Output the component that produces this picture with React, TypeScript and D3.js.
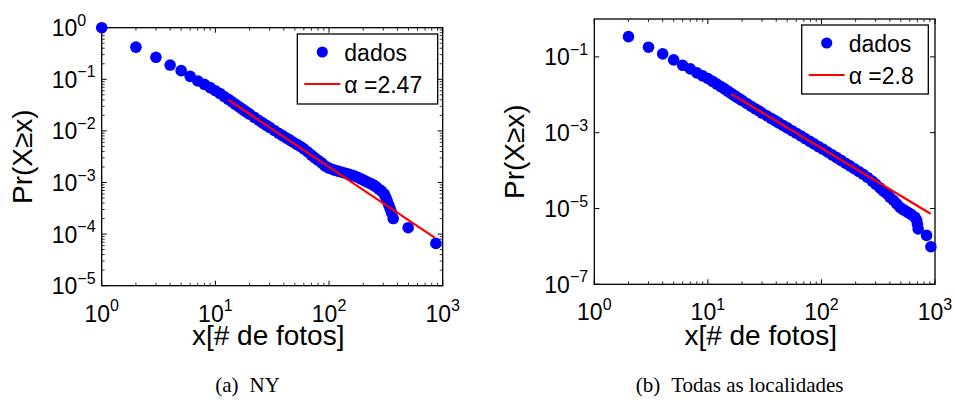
import React from 'react';
import * as d3 from 'd3';

// CCDF, New York photos per user
const nyX = [1, 2, 3, 4, 5, 6, 7, 8, 9, 10, 11, 12, 13, 14, 15, 16, 17, 18, 19, 20,
  22, 24, 26, 28, 30, 33, 36, 39, 42, 45, 48, 52, 56, 60, 65, 70, 75, 80, 86, 92,
  100, 110, 120, 130, 140, 150, 160, 170, 180, 190, 200, 210, 220, 230, 240, 250, 260, 275, 290,
  305, 315, 325, 335, 345, 355, 367, 497, 871];
const nyP = [1, 0.42, 0.267, 0.189, 0.147, 0.114, 0.093, 0.080, 0.069, 0.060, 0.053, 0.046, 0.041, 0.0365, 0.0328, 0.0297, 0.0270, 0.0247, 0.0228, 0.0211,
  0.0183, 0.0161, 0.0143, 0.0129, 0.0117, 0.0102, 0.0090, 0.0081, 0.0073, 0.0067, 0.0061, 0.0055, 0.0050, 0.0045, 0.0039, 0.0034, 0.0030, 0.0027, 0.0024, 0.0021,
  0.00190, 0.00176, 0.00166, 0.00158, 0.0015, 0.00144, 0.00138, 0.00132, 0.00125, 0.00118, 0.00112, 0.00106, 0.0010, 0.00096, 0.00092, 0.00087, 0.00082, 0.00074, 0.00068,
  0.00060, 0.00052, 0.00044, 0.00037, 0.00031, 0.00026, 0.00020, 0.000133, 0.000066];

// CCDF, all locations
const allX = [2, 3, 4, 5, 6, 7, 8, 9, 10, 11, 12, 13, 14, 15, 16, 17, 18, 19, 20,
  22, 24, 26, 28, 30, 33, 36, 39, 42, 46, 50, 55, 60, 66, 72, 79, 86, 94,
  103, 113, 124, 136, 149, 163, 178, 195, 213, 233, 255, 280, 300, 327, 350, 375, 400,
  430, 460, 490, 520, 550, 581, 620, 665, 690, 700, 711, 843, 920];
const allP = [0.342, 0.180, 0.120, 0.0834, 0.0600, 0.0483, 0.0379, 0.0316, 0.0269, 0.0226, 0.0192, 0.0165, 0.0143, 0.0125, 0.0109, 0.0097, 0.0087, 0.0078, 0.0071,
  0.0059, 0.0050, 0.0043, 0.0038, 0.0033, 0.0028, 0.00240, 0.00208, 0.00182, 0.00155, 0.00134, 0.00113, 0.00097, 0.00082, 0.00070, 0.00059, 0.00051, 0.00043,
  0.00037, 0.00031, 0.00026, 0.00022, 0.000186, 0.000157, 0.000133, 0.000112, 0.000095, 0.000080, 0.000066, 0.000053, 0.000044, 0.000035, 0.000029, 0.000025, 0.000020,
  0.0000165, 0.0000133, 0.0000108, 0.0000095, 0.0000086, 0.0000078, 0.0000069, 0.0000059, 0.0000049, 0.0000039, 0.0000029, 0.00000195, 0.00000098];

// power-law fits
const nyFit = { alpha: 2.47, xmin: 13, xmax: 850, pmin: 0.040 };
const allFit = { alpha: 2.8, xmin: 16, xmax: 915, pmin: 0.0106 };

const xTickExps = [0, 1, 2, 3];
const nyYTickExps = [0, -1, -2, -3, -4, -5];
const allYTickExps = [-1, -3, -5, -7];

const legendLabels = ['dados', 'α ='];
const captions = ['(a)', 'NY', '(b)', 'Todas as localidades'];

const SANS = '"Liberation Sans", Arial, Helvetica, sans-serif';
const SERIF = '"Liberation Serif", "Times New Roman", serif';

type Box = { left: number; right: number; top: number; bottom: number };

function Power({ exp }: { exp: number }) {
  return (
    <>
      <tspan fontSize={23}>10</tspan>
      <tspan fontSize={16} dy={-10.5}>{exp < 0 ? '\u2212' + Math.abs(exp) : String(exp)}</tspan>
    </>
  );
}

function Panel({ box, xs, ps, fit, yDomain, yTickExps, yMinor, legend, caption, captionX }: {
  box: Box; xs: number[]; ps: number[];
  fit: { alpha: number; xmin: number; xmax: number; pmin: number };
  yDomain: [number, number]; yTickExps: number[]; yMinor: boolean;
  legend: { x: number; y: number; w: number; h: number };
  caption: [string, string]; captionX: number;
}) {
  const x = d3.scaleLog().domain([1, 1000]).range([box.left, box.right]);
  const y = d3.scaleLog().domain(yDomain).range([box.bottom, box.top]);
  const pts = xs.map((v, i) => [v, ps[i]] as [number, number]);
  const fitPts: [number, number][] = [
    [fit.xmin, fit.pmin],
    [fit.xmax, fit.pmin * Math.pow(fit.xmax / fit.xmin, 1 - fit.alpha)],
  ];
  const line = d3.line<[number, number]>().x(d => x(d[0])).y(d => y(d[1]));
  const xMinor = x.ticks().filter(t => !xTickExps.some(e => Math.abs(t - Math.pow(10, e)) < 1e-9));
  const yMinorTicks = yMinor
    ? y.ticks().filter(t => Math.abs(Math.log10(t) - Math.round(Math.log10(t))) > 1e-6)
    : [];
  const major = 5, minor = 3;
  const w = box.right - box.left, h = box.bottom - box.top;

  return (
    <g>
      {/* axes box */}
      <rect x={box.left} y={box.top} width={w} height={h} fill="white" stroke="black" strokeWidth={1.3} />
      {/* x ticks */}
      {xTickExps.map(e => {
        const px = x(Math.pow(10, e));
        return (
          <g key={'xt' + e}>
            <line x1={px} x2={px} y1={box.bottom} y2={box.bottom - major} stroke="black" />
            <line x1={px} x2={px} y1={box.top} y2={box.top + major} stroke="black" />
            <text x={px} y={box.bottom + 36} textAnchor="middle" fontFamily={SANS}>
              <Power exp={e} />
            </text>
          </g>
        );
      })}
      {xMinor.map((t, i) => (
        <g key={'xm' + i}>
          <line x1={x(t)} x2={x(t)} y1={box.bottom} y2={box.bottom - minor} stroke="black" strokeWidth={0.8} />
          <line x1={x(t)} x2={x(t)} y1={box.top} y2={box.top + minor} stroke="black" strokeWidth={0.8} />
        </g>
      ))}
      {/* y ticks */}
      {yTickExps.map(e => {
        const py = y(Math.pow(10, e));
        return (
          <g key={'yt' + e}>
            <line x1={box.left} x2={box.left + major} y1={py} y2={py} stroke="black" />
            <line x1={box.right} x2={box.right - major} y1={py} y2={py} stroke="black" />
            <text x={box.left - 50} y={py + 8.5} fontFamily={SANS}>
              <Power exp={e} />
            </text>
          </g>
        );
      })}
      {yMinorTicks.map((t, i) => (
        <g key={'ym' + i}>
          <line x1={box.left} x2={box.left + minor} y1={y(t)} y2={y(t)} stroke="black" strokeWidth={0.8} />
          <line x1={box.right} x2={box.right - minor} y1={y(t)} y2={y(t)} stroke="black" strokeWidth={0.8} />
        </g>
      ))}
      {/* data */}
      {pts.map((d, i) => (
        <circle key={i} cx={x(d[0])} cy={y(d[1])} r={5.8} fill="#0000ff" />
      ))}
      <path d={line(fitPts) || ''} stroke="#ff0000" strokeWidth={2.2} fill="none" />
      {/* axis labels */}
      <text x={(box.left + box.right) / 2 - 4} y={345} textAnchor="middle" fontFamily={SANS} fontSize={28}>x[# de fotos]</text>
      <text transform={`translate(${box.left - 70},${(box.top + box.bottom) / 2}) rotate(-90)`}
        textAnchor="middle" fontFamily={SANS} fontSize={28}>Pr(X≥x)</text>
      {/* legend */}
      <rect x={legend.x} y={legend.y} width={legend.w} height={legend.h} fill="white" stroke="black" strokeWidth={1.3} />
      <circle cx={legend.x + 25} cy={legend.y + 18} r={5.6} fill="#0000ff" />
      <text x={legend.x + 47} y={legend.y + 27} fontFamily={SANS} fontSize={23}>{legendLabels[0]}</text>
      <line x1={legend.x + 7} x2={legend.x + 43} y1={legend.y + 50} y2={legend.y + 50} stroke="#ff0000" strokeWidth={2.2} />
      <text x={legend.x + 47} y={legend.y + 59} fontFamily={SANS} fontSize={23}>{legendLabels[1] + fit.alpha}</text>
      {/* caption */}
      <text x={captionX} y={392} textAnchor="middle" fontFamily={SERIF} fontSize={21}>
        <tspan>{caption[0]}</tspan>
        <tspan dx={11}>{caption[1]}</tspan>
      </text>
    </g>
  );
}

export default function App() {
  return (
    <svg width={954} height={401} style={{ position: 'absolute', left: 0, top: 0, background: 'white' }}>
      <rect width={954} height={401} fill="white" />
      <Panel
        box={{ left: 101.7, right: 442.7, top: 27.7, bottom: 285.7 }}
        xs={nyX} ps={nyP} fit={nyFit}
        yDomain={[1e-5, 1]} yTickExps={nyYTickExps} yMinor={true}
        legend={{ x: 297.3, y: 34, w: 140.4, h: 70 }}
        caption={[captions[0], captions[1]]} captionX={247.6}
      />
      <Panel
        box={{ left: 594.3, right: 935, top: 19, bottom: 284.3 }}
        xs={allX} ps={allP} fit={allFit}
        yDomain={[1e-7, 1]} yTickExps={allYTickExps} yMinor={false}
        legend={{ x: 801.7, y: 25, w: 126.6, h: 69 }}
        caption={[captions[2], captions[3]]} captionX={739.6}
      />
    </svg>
  );
}
